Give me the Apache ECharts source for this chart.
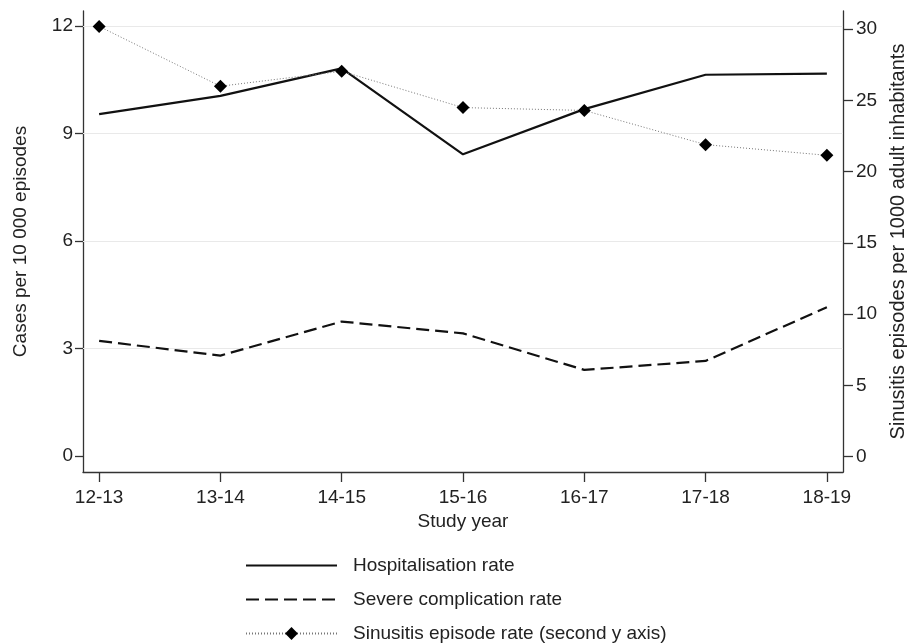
<!DOCTYPE html>
<html>
<head>
<meta charset="utf-8">
<script src="https://cdn.jsdelivr.net/npm/echarts@6/dist/echarts.min.js"></script>
<style>
html,body{margin:0;padding:0;background:#fff;}
#chart{width:907px;height:643px;}
</style>
</head>
<body>
<div id="chart"></div>
<script>
const categories = ['12-13','13-14','14-15','15-16','16-17','17-18','18-19'];
const hospitalisation = [9.54, 10.05, 10.82, 8.42, 9.68, 10.64, 10.67];
const severe = [3.21, 2.80, 3.75, 3.42, 2.40, 2.65, 4.15];
const sinusitis = [30.2, 26.0, 27.05, 24.5, 24.3, 21.9, 21.15];
const leftTicks = [0, 3, 6, 9, 12];
const rightTicks = [0, 5, 10, 15, 20, 25, 30];
const gridValues = [3, 6, 9, 12];
const seriesNames = ['Hospitalisation rate', 'Severe complication rate', 'Sinusitis episode rate (second y axis)'];
const xTitle = 'Study year';
const leftTitle = 'Cases per 10 000 episodes';
const rightTitle = 'Sinusitis episodes per 1000 adult inhabitants';

const FONT = "'Liberation Sans', Arial, sans-serif";
const TXT = '#222';
const AX = '#333';
const xIdx = categories.map((c, i) => i);
const pairs = arr => arr.map((v, i) => [i, v]);

const chart = echarts.init(document.getElementById('chart'), null, {renderer: 'canvas'});
chart.setOption({
  animation: false,
  backgroundColor: '#fff',
  textStyle: {fontFamily: FONT},
  grid: {left: 83, right: 64, top: 11, bottom: 171, outerBoundsMode: 'none', containLabel: false},
  legend: {
    orient: 'vertical',
    left: 245,
    top: 556,
    height: 200,
    padding: 0,
    itemWidth: 91,
    itemHeight: 16,
    itemGap: 15,
    textStyle: {fontSize: 19, color: TXT, fontFamily: FONT, padding: [0, 0, 0, 11]},
    data: [
      {name: seriesNames[0], itemStyle: {opacity: 0}},
      {name: seriesNames[1], itemStyle: {opacity: 0}},
      {name: seriesNames[2]}
    ],
    selectedMode: false
  },
  xAxis: {
    type: 'value',
    min: -0.133,
    max: 6.133,
    name: xTitle,
    nameLocation: 'middle',
    nameGap: 37,
    nameTextStyle: {fontSize: 19, color: TXT, fontFamily: FONT},
    axisLine: {show: true, onZero: false, lineStyle: {color: AX, width: 1.3}},
    axisTick: {show: true, length: 10, inside: false, customValues: xIdx, lineStyle: {color: AX, width: 1.3}},
    axisLabel: {customValues: xIdx, margin: 16, fontSize: 19, color: TXT, fontFamily: FONT,
      formatter: v => categories[Math.round(v)] || ''},
    splitLine: {show: false}
  },
  yAxis: [{
    type: 'value',
    position: 'left',
    min: -0.45,
    max: 12.42,
    name: leftTitle,
    nameLocation: 'middle',
    nameGap: 53,
    nameRotate: 90,
    nameTextStyle: {fontSize: 19, color: TXT, fontFamily: FONT},
    axisLine: {show: true, onZero: false, lineStyle: {color: AX, width: 1.3}},
    axisTick: {show: true, length: 8, inside: false, customValues: leftTicks, lineStyle: {color: AX, width: 1.3}},
    axisLabel: {customValues: leftTicks, margin: 10, fontSize: 19, color: TXT, fontFamily: FONT},
    splitLine: {show: false}
  }, {
    type: 'value',
    position: 'right',
    min: -1.08,
    max: 31.28,
    name: rightTitle,
    nameLocation: 'middle',
    nameGap: 44,
    nameRotate: 90,
    nameTextStyle: {fontSize: 20, color: TXT, fontFamily: FONT},
    axisLine: {show: true, onZero: false, lineStyle: {color: AX, width: 1.3}},
    axisTick: {show: true, length: 10, inside: false, customValues: rightTicks, lineStyle: {color: AX, width: 1.3}},
    axisLabel: {customValues: rightTicks, margin: 13, fontSize: 19, color: TXT, fontFamily: FONT},
    splitLine: {show: false}
  }],
  series: [{
    name: seriesNames[0],
    type: 'line',
    yAxisIndex: 0,
    data: pairs(hospitalisation),
    symbol: 'none',
    lineStyle: {color: '#111', width: 2.2},
    itemStyle: {color: '#111'},
    z: 3,
    markLine: {
      silent: true,
      symbol: 'none',
      label: {show: false},
      lineStyle: {color: '#e9e9e9', width: 1.2, type: 'solid'},
      data: gridValues.map(v => ({yAxis: v})),
      z: 1
    }
  }, {
    name: seriesNames[1],
    type: 'line',
    yAxisIndex: 0,
    data: pairs(severe),
    symbol: 'none',
    lineStyle: {color: '#111', width: 2.2, type: [13, 6]},
    itemStyle: {color: '#111'},
    z: 3
  }, {
    name: seriesNames[2],
    type: 'line',
    yAxisIndex: 1,
    data: pairs(sinusitis),
    symbol: 'diamond',
    symbolSize: 13,
    showSymbol: true,
    lineStyle: {color: '#777', width: 1, type: [1, 2]},
    itemStyle: {color: '#000'},
    z: 4
  }]
});
</script>
</body>
</html>
